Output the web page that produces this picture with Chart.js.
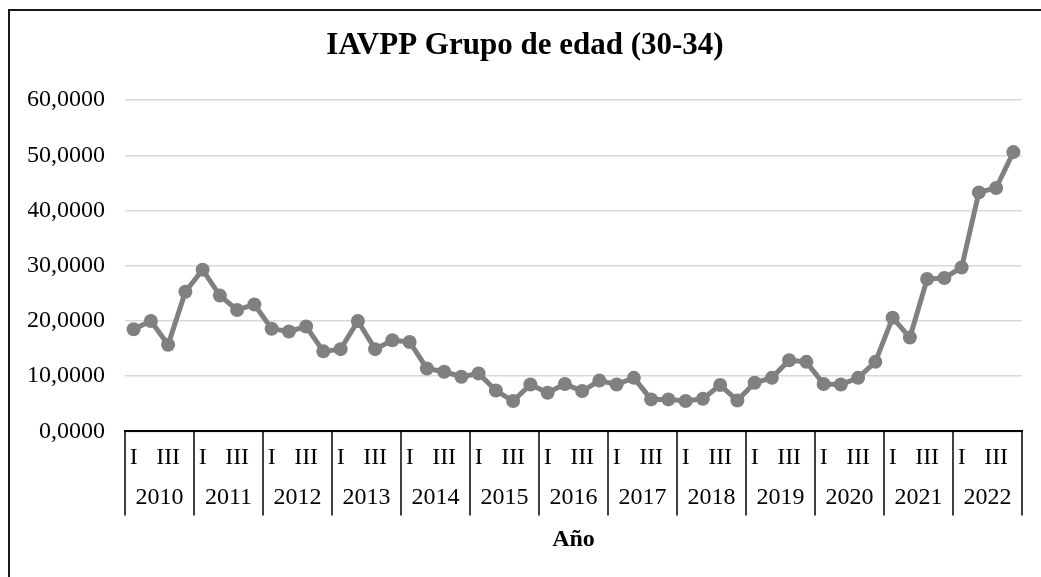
<!DOCTYPE html>
<html>
<head>
<meta charset="utf-8">
<script src="https://cdn.jsdelivr.net/npm/chart.js@4"></script>
<style>
    html, body { margin: 0; padding: 0; background: #ffffff; }
    #wrap { width: 1041px; height: 577px; position: relative; }
</style>
</head>
<body>
<div id="wrap"><canvas id="iavppChart"></canvas></div>
<script>
// Data
const years = ['2010', '2011', '2012', '2013', '2014', '2015', '2016', '2017', '2018', '2019', '2020', '2021', '2022'];
const quarters = ['I', 'II', 'III', 'IV'];
const iavpp = [
    18.5, 20.0, 15.7, 25.3,
    29.3, 24.6, 22.0, 23.0,
    18.6, 18.1, 19.0, 14.5,
    14.9, 20.0, 14.9, 16.5,
    16.2, 11.4, 10.8, 9.9,
    10.5, 7.4, 5.5, 8.5,
    7.0, 8.6, 7.3, 9.2,
    8.5, 9.7, 5.8, 5.8,
    5.5, 5.9, 8.4, 5.6,
    8.8, 9.7, 12.9, 12.6,
    8.6, 8.5, 9.7, 12.6,
    20.6, 17.0, 27.6, 27.8,
    29.7, 43.3, 44.1, 50.6
];

const serif = "'Liberation Serif', 'Times New Roman', serif";

const labels = [];
years.forEach(function(y) {
    quarters.forEach(function(q) { labels.push(q); });
});

// Year row, separators and the outer frame
const yearAxisPlugin = {
    id: 'yearAxis',
    afterDraw: function(chart) {
        const ctx = chart.ctx;
        const x = chart.scales.x;
        const area = chart.chartArea;
        const per = quarters.length;

        ctx.save();
        ctx.strokeStyle = '#000000';
        ctx.lineWidth = 1.5;
        ctx.fillStyle = '#000000';
        ctx.font = '24px ' + serif;
        ctx.textAlign = 'center';
        ctx.textBaseline = 'middle';

        const bounds = [area.left];
        for (let k = 1; k < years.length; k++) {
            const a = x.getPixelForValue(k * per - 1);
            const b = x.getPixelForValue(k * per);
            bounds.push((a + b) / 2);
        }
        bounds.push(area.right);

        bounds.forEach(function(px) {
            ctx.beginPath();
            ctx.moveTo(px, area.bottom);
            ctx.lineTo(px, area.bottom + 84);
            ctx.stroke();
        });

        years.forEach(function(y, i) {
            ctx.fillText(y, (bounds[i] + bounds[i + 1]) / 2, area.bottom + 66);
        });

        // frame, clipped by the image on the right and bottom
        ctx.lineWidth = 2;
        ctx.strokeStyle = '#1a1a1a';
        ctx.beginPath();
        ctx.moveTo(9, chart.height);
        ctx.lineTo(9, 10);
        ctx.lineTo(chart.width, 10);
        ctx.stroke();
        ctx.restore();
    }
};

document.addEventListener('DOMContentLoaded', function() {
    const ctx = document.getElementById('iavppChart').getContext('2d');
    const iavppChart = new Chart(ctx, {
        type: 'line',
        data: {
            labels: labels,
            datasets: [{
                label: 'IAVPP',
                data: iavpp,
                borderColor: '#808080',
                backgroundColor: '#808080',
                borderWidth: 5,
                pointRadius: 7,
                pointHoverRadius: 7,
                pointBackgroundColor: '#808080',
                pointBorderWidth: 0,
                tension: 0
            }]
        },
        options: {
            responsive: true,
            maintainAspectRatio: false,
            animation: false,
            layout: {
                padding: { top: 27, left: 28, right: 19, bottom: 23 }
            },
            plugins: {
                legend: { display: false },
                tooltip: { enabled: false },
                title: {
                    display: true,
                    text: 'IAVPP Grupo de edad (30-34)',
                    color: '#000000',
                    font: { family: serif, size: 31, weight: 'bold', lineHeight: 1.2 },
                    padding: { top: 0, bottom: 36 }
                }
            },
            scales: {
                x: {
                    type: 'category',
                    offset: true,
                    grid: { display: false, drawTicks: false },
                    border: { display: true, color: '#000000', width: 2 },
                    ticks: {
                        autoSkip: false,
                        maxRotation: 0,
                        color: '#000000',
                        padding: 12,
                        font: { family: serif, size: 24, lineHeight: 1.2 },
                        callback: function(value, index) {
                            return index % 2 === 0 ? this.getLabelForValue(value) : '';
                        }
                    },
                    title: {
                        display: true,
                        text: 'Año',
                        color: '#000000',
                        font: { family: serif, size: 24, weight: 'bold', lineHeight: 1.2 },
                        padding: { top: 41, bottom: 0 }
                    }
                },
                y: {
                    min: 0,
                    max: 60,
                    afterFit: function(scale) { scale.width = 97; },
                    grid: { color: '#d9d9d9', lineWidth: 1.5, drawTicks: false },
                    border: { display: false },
                    ticks: {
                        stepSize: 10,
                        color: '#000000',
                        padding: 20,
                        font: { family: serif, size: 24 },
                        callback: function(value) {
                            return value.toFixed(4).replace('.', ',');
                        }
                    }
                }
            }
        },
        plugins: [yearAxisPlugin]
    });
});
</script>
</body>
</html>
